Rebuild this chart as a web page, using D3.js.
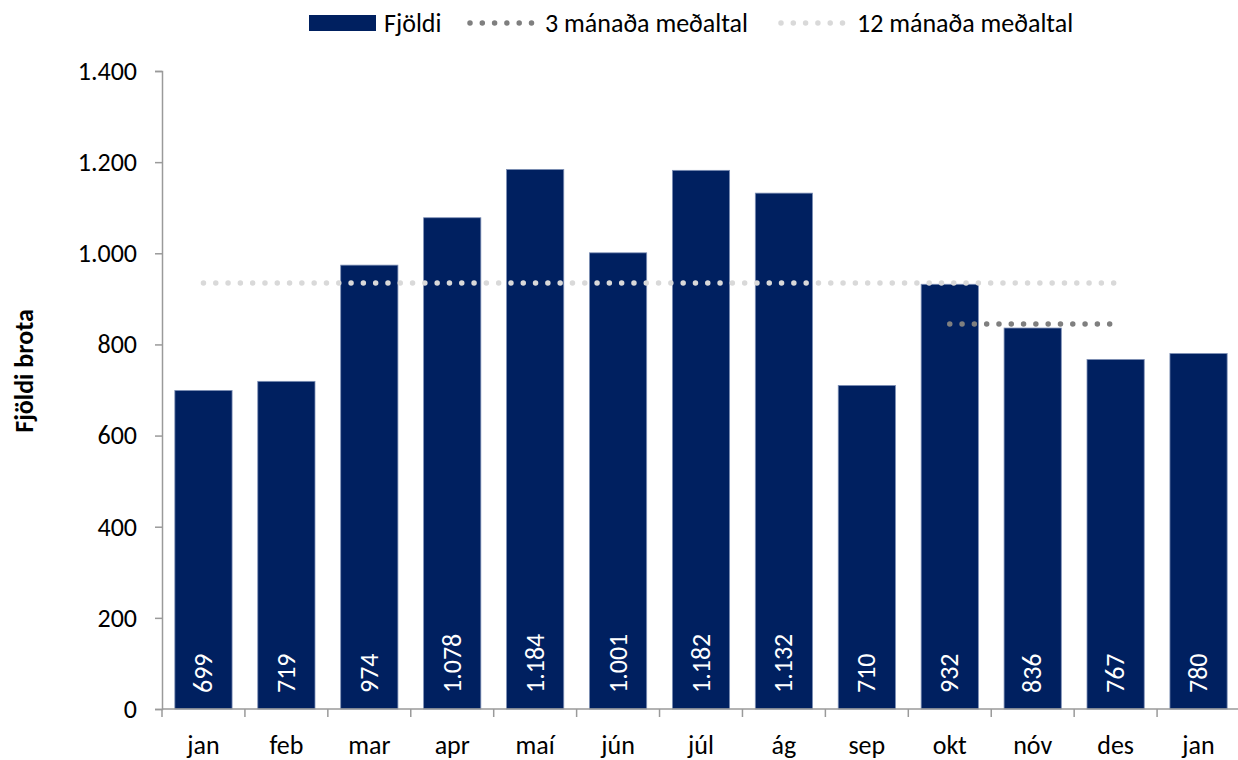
<!DOCTYPE html>
<html>
<head>
<meta charset="utf-8">
<script src="https://cdn.jsdelivr.net/npm/d3@7"></script>
<style>
    body { margin: 0; background: #fff; }
    svg { display: block; font-family: Carlito, Calibri, Lato, sans-serif; }
</style>
</head>
<body>
<svg id="chart"></svg>
<script>
// Data
const months = ["jan", "feb", "mar", "apr", "maí", "jún", "júl", "ág", "sep", "okt", "nóv", "des", "jan"];
const counts = [699, 719, 974, 1078, 1184, 1001, 1182, 1132, 710, 932, 836, 767, 780];
const avg3 = [null, null, null, null, null, null, null, null, null, 845, 845, 845, null];
const avg12 = [935, 935, 935, 935, 935, 935, 935, 935, 935, 935, 935, 935, null];
const yTicks = [0, 200, 400, 600, 800, 1000, 1200, 1400];

const width = 1238;
const height = 760;
const margin = { top: 71, right: -2, bottom: 51, left: 162 };
const fontSize = "26px";

const locale = d3.formatLocale({ decimal: ",", thousands: ".", grouping: [3], currency: ["", " kr."] });
const fmt = locale.format(",d");

const svg = d3.select("#chart")
    .attr("width", width)
    .attr("height", height);

const idx = months.map((d, i) => i);

// X scale
const x = d3.scaleBand()
    .domain(idx)
    .range([margin.left, width - margin.right])
    .paddingInner(0.31)
    .paddingOuter(0.155);

// Y scale
const y = d3.scaleLinear()
    .domain([0, 1400])
    .range([height - margin.bottom, margin.top]);

const barColor = "#002060";
const axisColor = "#9a9a9a";

// Bars
svg.append("g")
    .selectAll("rect")
    .data(counts)
    .join("rect")
    .attr("x", (d, i) => x(i))
    .attr("y", d => y(d))
    .attr("width", x.bandwidth())
    .attr("height", d => y(0) - y(d))
    .attr("fill", barColor)
    .attr("stroke", "#7d8fb5")
    .attr("stroke-width", 0.8);

// Bar labels
svg.append("g")
    .selectAll("text")
    .data(counts)
    .join("text")
    .attr("transform", (d, i) => `translate(${x(i) + x.bandwidth() / 2 + 8.5},${y(0) - 16}) rotate(-90)`)
    .attr("text-anchor", "start")
    .attr("fill", "#fff")
    .style("font-size", fontSize)
    .text(d => fmt(d));

// Average lines
const line = d3.line()
    .defined(d => d != null)
    .x((d, i) => x(i) + x.bandwidth() / 2)
    .y(d => y(d));

svg.append("path")
    .datum(avg12)
    .attr("d", line)
    .attr("fill", "none")
    .attr("stroke", "#d9d9d9")
    .attr("stroke-width", 5.5)
    .attr("stroke-linecap", "round")
    .attr("stroke-dasharray", "0 12.3");

svg.append("path")
    .datum(avg3)
    .attr("d", line)
    .attr("fill", "none")
    .attr("stroke", "#7f7f7f")
    .attr("stroke-width", 5.5)
    .attr("stroke-linecap", "round")
    .attr("stroke-dasharray", "0 12.3");

// Y axis
const yAxis = svg.append("g")
    .attr("transform", `translate(${margin.left},0)`)
    .call(d3.axisLeft(y).tickValues(yTicks).tickFormat(fmt).tickSize(7).tickPadding(18))
    .attr("font-family", null)
    .attr("font-size", null);
yAxis.select(".domain").attr("stroke", axisColor).attr("stroke-width", 1.5);
yAxis.selectAll(".tick line").attr("stroke", axisColor).attr("stroke-width", 1.5);
yAxis.selectAll(".tick text")
    .attr("fill", "#000")
    .style("font-size", fontSize);

// X axis
const xAxis = svg.append("g")
    .attr("transform", `translate(0,${y(0)})`);
xAxis.append("line")
    .attr("x1", margin.left)
    .attr("x2", width)
    .attr("stroke", axisColor)
    .attr("stroke-width", 1.5);
const step = x.step();
const edge0 = x(0) - (step - x.bandwidth()) / 2;
xAxis.selectAll("line.tick")
    .data(d3.range(months.length + 1))
    .join("line")
    .attr("class", "tick")
    .attr("x1", i => edge0 + i * step)
    .attr("x2", i => edge0 + i * step)
    .attr("y1", 0)
    .attr("y2", 8)
    .attr("stroke", axisColor)
    .attr("stroke-width", 1.5);
xAxis.selectAll("text")
    .data(months)
    .join("text")
    .attr("x", (d, i) => x(i) + x.bandwidth() / 2)
    .attr("y", 45)
    .attr("text-anchor", "middle")
    .style("font-size", fontSize)
    .text(d => d);

// Y label
svg.append("text")
    .attr("transform", `translate(33,371) rotate(-90)`)
    .attr("text-anchor", "middle")
    .style("font-size", fontSize)
    .style("font-weight", "bold")
    .text("Fjöldi brota");

// Legend
const legend = svg.append("g").attr("transform", "translate(0,23)");
legend.append("rect")
    .attr("x", 309).attr("y", -8)
    .attr("width", 67).attr("height", 16)
    .attr("fill", barColor);
legend.append("text")
    .attr("x", 384).attr("y", 9)
    .style("font-size", fontSize)
    .text("Fjöldi");
legend.append("line")
    .attr("x1", 470).attr("x2", 535)
    .attr("stroke", "#7f7f7f").attr("stroke-width", 5.5)
    .attr("stroke-linecap", "round").attr("stroke-dasharray", "0 12.3");
legend.append("text")
    .attr("x", 545).attr("y", 9)
    .style("font-size", fontSize)
    .text("3 mánaða meðaltal");
legend.append("line")
    .attr("x1", 781).attr("x2", 846)
    .attr("stroke", "#d9d9d9").attr("stroke-width", 5.5)
    .attr("stroke-linecap", "round").attr("stroke-dasharray", "0 12.3");
legend.append("text")
    .attr("x", 857).attr("y", 9)
    .style("font-size", fontSize)
    .text("12 mánaða meðaltal");
</script>
</body>
</html>
